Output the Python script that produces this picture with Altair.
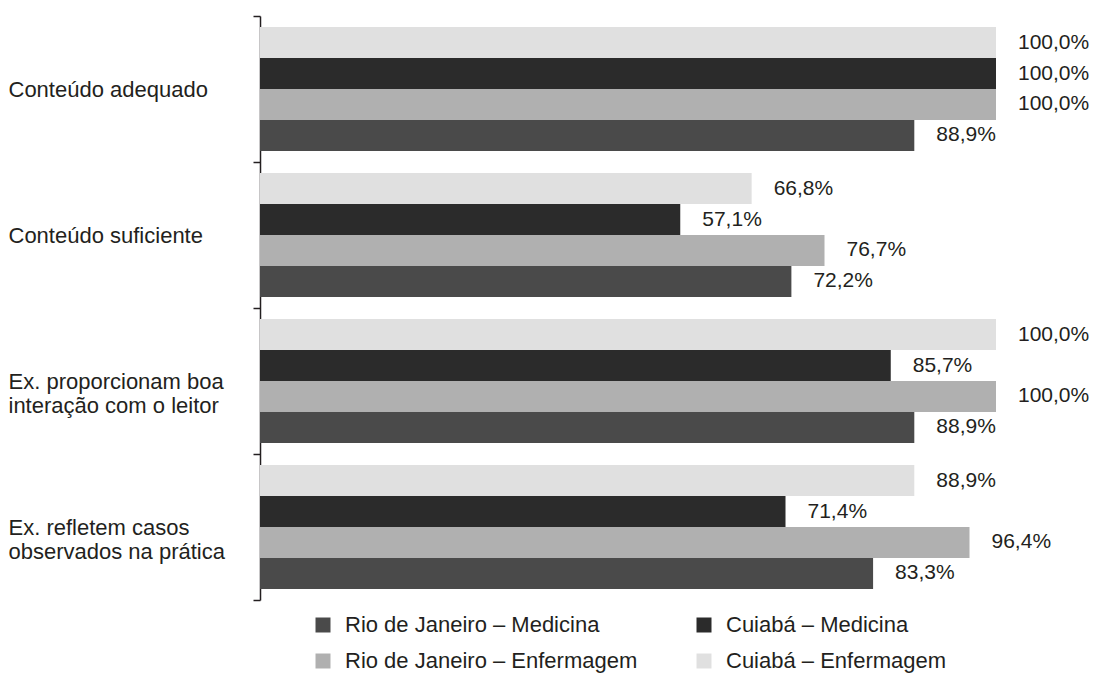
import altair as alt
import pandas as pd

# ---- data ----
categories = [
    "Conteúdo adequado",
    "Conteúdo suficiente",
    "Ex. proporcionam boa\ninteração com o leitor",
    "Ex. refletem casos\nobservados na prática",
]
series = [
    "Rio de Janeiro – Medicina",
    "Cuiabá – Medicina",
    "Rio de Janeiro – Enfermagem",
    "Cuiabá – Enfermagem",
]
bar_order = [
    "Cuiabá – Enfermagem",
    "Cuiabá – Medicina",
    "Rio de Janeiro – Enfermagem",
    "Rio de Janeiro – Medicina",
]
rj_medicina = [88.9, 72.2, 88.9, 83.3]
cuiaba_medicina = [100.0, 57.1, 85.7, 71.4]
rj_enfermagem = [100.0, 76.7, 100.0, 96.4]
cuiaba_enfermagem = [100.0, 66.8, 100.0, 88.9]

colors = ["#4a4a4a", "#2b2b2b", "#b0b0b0", "#e0e0e0"]

values_by_series = [rj_medicina, cuiaba_medicina, rj_enfermagem, cuiaba_enfermagem]
rows = []
for s, vals in zip(series, values_by_series):
    for c, v in zip(categories, vals):
        rows.append({"category": c, "series": s, "value": v})
df = pd.DataFrame(rows)

FONT = "Liberation Sans"
TXT = "#231f20"

y_enc = alt.Y(
    "category:N",
    sort=categories,
    scale=alt.Scale(paddingInner=0, paddingOuter=0),
    axis=alt.Axis(
        title=None,
        labelExpr="split(datum.label, '\\n')",
        labelAlign="left",
        labelBaseline="middle",
        labelPadding=245,
        labelLimit=0,
        labelFont=FONT,
        labelFontSize=22,
        labelColor=TXT,
        labelLineHeight=24,
        tickSize=7,
        tickWidth=1.5,
        tickColor=TXT,
        tickBand="extent",
        domainColor=TXT,
        domainWidth=1.5,
        grid=False,
    ),
)
x_enc = alt.X("value:Q", scale=alt.Scale(domain=[0, 100]), axis=None)
yoff_enc = alt.YOffset(
    "series:N",
    sort=bar_order,
    scale=alt.Scale(paddingInner=0, paddingOuter=0.355),
)

base = alt.Chart(df)

bars = base.mark_bar().encode(
    x=x_enc,
    y=y_enc,
    yOffset=yoff_enc,
    color=alt.Color(
        "series:N",
        scale=alt.Scale(domain=series, range=colors),
        legend=alt.Legend(
            title=None,
            orient="none",
            direction="horizontal",
            legendX=52,
            legendY=598,
            columns=2,
            symbolType="square",
            symbolSize=225,
            symbolStrokeWidth=0,
            labelFont=FONT,
            labelFontSize=22,
            labelColor=TXT,
            labelOffset=11,
            rowPadding=14,
            columnPadding=55,
            labelLimit=0,
        ),
    ),
)

labels = base.transform_calculate(
    label="replace(format(datum.value, '.1f'), '.', ',') + '%'"
).mark_text(
    align="left", baseline="middle", dx=22, font=FONT, fontSize=21, color=TXT
).encode(
    x=x_enc,
    y=y_enc,
    yOffset=yoff_enc,
    text="label:N",
)

chart = (
    alt.layer(bars, labels)
    .properties(
        width=736,
        height=584,
        autosize=alt.AutoSizeParams(type="none"),
        padding={"left": 260, "top": 16, "right": 101, "bottom": 75},
        background="white",
    )
    .configure_view(stroke=None)
)

chart.save("out.html", embed_options={"renderer": "svg", "actions": False})
